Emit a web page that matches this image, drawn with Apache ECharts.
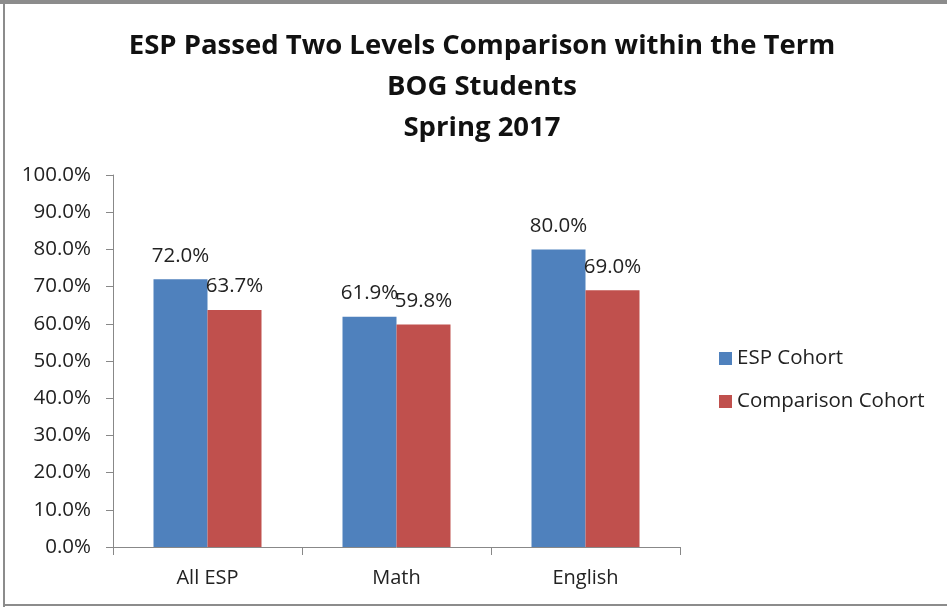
<!DOCTYPE html>
<html>
<head>
<meta charset="utf-8">
<script src="https://cdn.jsdelivr.net/npm/echarts@6/dist/echarts.min.js"></script>
<style>
  html, body { margin: 0; padding: 0; background: #fff; }
  #chart { width: 947px; height: 607px; }
</style>
</head>
<body>
<div id="chart"></div>
<script>
// Pass rates by subject area, Spring 2017
const categories = ['All ESP', 'Math', 'English'];
const espCohort = [72.0, 61.9, 80.0];
const comparisonCohort = [63.7, 59.8, 69.0];
const seriesNames = ['ESP Cohort', 'Comparison Cohort'];
const titleLines = ['ESP Passed Two Levels Comparison within the Term', 'BOG Students', 'Spring 2017'];

const font = '"Open Sans", "Noto Sans", sans-serif';
const chart = echarts.init(document.getElementById('chart'), null, { renderer: 'canvas' });

const labelStyle = {
  show: true,
  position: 'top',
  distance: 13,
  color: '#222',
  fontSize: 20.5,
  fontFamily: font,
  formatter: p => p.value.toFixed(1) + '%'
};

chart.setOption({
  animation: false,
  backgroundColor: '#fff',
  graphic: [
    { type: 'rect', shape: { x: 0, y: 0, width: 947, height: 4 }, style: { fill: '#8c8c8c' } },
    { type: 'rect', shape: { x: 3, y: 0, width: 2, height: 607 }, style: { fill: '#8c8c8c' } },
    { type: 'rect', shape: { x: 3, y: 604, width: 944, height: 2 }, style: { fill: '#8c8c8c' } }
  ],
  title: {
    text: titleLines.join('\n'),
    left: 477,
    textAlign: 'center',
    top: 21,
    textStyle: {
      fontFamily: font,
      fontWeight: 'bold',
      fontSize: 27.5,
      lineHeight: 41,
      color: '#111'
    }
  },
  legend: {
    orient: 'vertical',
    left: 714,
    top: 343,
    itemGap: 22,
    itemWidth: 13,
    itemHeight: 13,
    icon: 'rect',
    textStyle: { fontFamily: font, fontSize: 20.5, color: '#222', padding: [0, 0, 0, 0] },
    data: seriesNames
  },
  grid: { left: 113, right: 267, top: 175, bottom: 60 },
  xAxis: {
    type: 'category',
    data: categories,
    axisLine: { lineStyle: { color: '#888' } },
    axisTick: { show: true, length: 8, lineStyle: { color: '#888' } },
    axisLabel: { fontFamily: font, fontSize: 20, color: '#222', margin: 21 }
  },
  yAxis: {
    type: 'value',
    min: 0,
    max: 100,
    interval: 10,
    axisLine: { show: true, lineStyle: { color: '#888' } },
    axisTick: { show: true, length: 7, lineStyle: { color: '#888' } },
    splitLine: { show: false },
    axisLabel: {
      fontFamily: font, fontSize: 20.5, color: '#222', margin: 22,
      formatter: v => v.toFixed(1) + '%'
    }
  },
  series: [
    {
      name: seriesNames[0],
      type: 'bar',
      data: espCohort,
      barWidth: 54,
      barGap: '0%',
      itemStyle: { color: '#4f81bd' },
      label: labelStyle
    },
    {
      name: seriesNames[1],
      type: 'bar',
      data: comparisonCohort,
      barWidth: 54,
      barGap: '0%',
      itemStyle: { color: '#c0504d' },
      label: labelStyle
    }
  ]
});
</script>
</body>
</html>
